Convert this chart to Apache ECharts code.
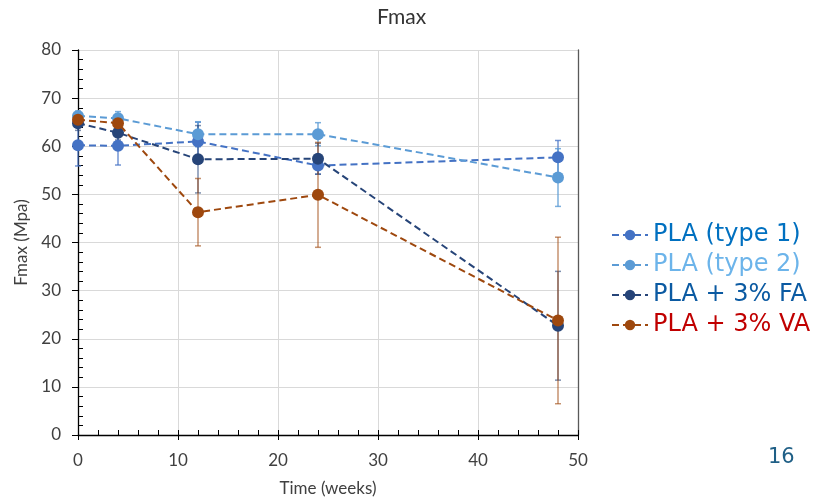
<!DOCTYPE html>
<html><head><meta charset="utf-8">
<script src="https://cdn.jsdelivr.net/npm/echarts@6/dist/echarts.min.js"></script>
<style>html,body{margin:0;padding:0;background:#fff}#c{width:821px;height:497px}</style>
</head><body><div id="c"></div>
<script>
const weeks = [0, 4, 12, 24, 48];
const seriesNames = ['PLA (type 1)', 'PLA (type 2)', 'PLA + 3% FA', 'PLA + 3% VA'];
const type1 = [60.2, 60.1, 61.0, 56.0, 57.7];
const type1Err = [4.3, 4.0, 4.0, 1.8, 3.5];
const type2 = [66.3, 65.8, 62.5, 62.5, 53.5];
const type2Err = [1.0, 1.4, 2.6, 2.4, 6.0];
const fa = [64.8, 62.8, 57.3, 57.4, 22.7];
const faErr = [1.5, 1.5, 7.0, 3.2, 11.3];
const va = [65.5, 64.8, 46.3, 49.9, 23.8];
const vaErr = [1.0, 1.0, 7.0, 10.9, 17.3];
const xTicks = [0, 10, 20, 30, 40, 50];
const yTicks = [0, 10, 20, 30, 40, 50, 60, 70, 80];

const lineColors = ['#4472C4', '#5B9BD5', '#264478', '#9E480E'];
const errColors = ['rgba(68,114,196,0.75)', 'rgba(91,155,213,0.8)', 'rgba(38,68,120,0.6)', 'rgba(158,72,14,0.6)'];
const legendColors = ['#0070C0', '#6CB4EA', '#0B5AA2', '#C00000'];
const values = [type1, type2, fa, va];
const errs = [type1Err, type2Err, faErr, vaErr];

const chart = echarts.init(document.getElementById('c'), null, {renderer: 'canvas'});
const font = 'Lato, "Open Sans", sans-serif';

function errSeries(i) {
  return {
    type: 'custom', name: 'err' + i, xAxisIndex: 0, yAxisIndex: 0, z: 1, silent: true,
    data: weeks.map((w, k) => [w, values[i][k] - errs[i][k], values[i][k] + errs[i][k]]),
    renderItem: function (params, api) {
      const x = api.value(0), lo = api.value(1), hi = api.value(2);
      const p1 = api.coord([x, hi]), p2 = api.coord([x, lo]);
      const w = 3;
      const style = {stroke: errColors[i], lineWidth: 1.5};
      return {type: 'group', children: [
        {type: 'line', shape: {x1: p1[0], y1: p1[1], x2: p2[0], y2: p2[1]}, style: style},
        {type: 'line', shape: {x1: p1[0] - w, y1: p1[1], x2: p1[0] + w, y2: p1[1]}, style: style},
        {type: 'line', shape: {x1: p2[0] - w, y1: p2[1], x2: p2[0] + w, y2: p2[1]}, style: style}
      ]};
    }
  };
}
function lineSeries(i) {
  return {
    type: 'line', name: seriesNames[i], xAxisIndex: 0, yAxisIndex: 0, z: 2 + i,
    data: weeks.map((w, k) => [w, values[i][k]]),
    symbol: 'circle', symbolSize: 12,
    itemStyle: {color: lineColors[i]},
    lineStyle: {color: lineColors[i], width: 2, type: [7, 4]}
  };
}

const option = {
  animation: false,
  backgroundColor: '#fff',
  title: {text: 'Fmax', left: 372, top: 2, textStyle: {fontFamily: font, fontSize: 21, fontWeight: 'normal', color: '#333'}},
  grid: {left: 78, right: 243, top: 50, bottom: 62, outerBoundsMode: 'none', containLabel: false},
  legend: {
    orient: 'vertical', left: 606, top: 218, itemWidth: 36, itemHeight: 13, itemGap: 6,
    data: seriesNames.map((n, i) => ({name: n, textStyle: {color: legendColors[i]}})),
    textStyle: {fontFamily: '"DejaVu Sans", Verdana, sans-serif', fontSize: 24, lineHeight: 23}
  },
  xAxis: [
    {type: 'value', min: 0, max: 50, interval: 10, position: 'bottom',
     name: 'Time (weeks)', nameLocation: 'middle', nameGap: 45,
     nameTextStyle: {fontFamily: font, fontSize: 17, color: '#404040'},
     axisLine: {show: true, lineStyle: {color: '#000', width: 1.3}},
     axisTick: {show: true, inside: false, length: 5, lineStyle: {color: '#000'}},
     axisLabel: {margin: 17, fontFamily: font, fontSize: 17, color: '#404040',
                 formatter: v => xTicks.includes(v) ? String(v) : ''},
     splitLine: {show: true, lineStyle: {color: '#d9d9d9', width: 1}}},
    {type: 'value', min: 0, max: 50, interval: 10, position: 'bottom',
     axisLine: {show: false}, axisLabel: {show: false}, splitLine: {show: false},
     axisTick: {show: true, inside: true, length: 5, lineStyle: {color: '#000'}},
     minorTick: {show: true, splitNumber: 5, length: 5, lineStyle: {color: '#000', width: 1}}}
  ],
  yAxis: [
    {type: 'value', min: 0, max: 80, interval: 10, position: 'left',
     name: 'Fmax (Mpa)', nameLocation: 'middle', nameGap: 40, nameRotate: 90,
     nameTextStyle: {fontFamily: font, fontSize: 17, color: '#404040'},
     axisLine: {show: true, lineStyle: {color: '#000', width: 1.3}},
     axisTick: {show: true, inside: false, length: 6, lineStyle: {color: '#000'}},
     axisLabel: {margin: 17, fontFamily: font, fontSize: 17, color: '#404040',
                 formatter: v => yTicks.includes(v) ? String(v) : ''},
     splitLine: {show: true, lineStyle: {color: '#d9d9d9', width: 1}}},
    {type: 'value', min: 0, max: 80, interval: 10, position: 'left',
     axisLine: {show: false}, axisLabel: {show: false}, splitLine: {show: false},
     axisTick: {show: true, inside: true, length: 0},
     minorTick: {show: true, splitNumber: 5, length: 5, lineStyle: {color: '#000', width: 1}}},
    {type: 'value', min: 0, max: 80, interval: 10, position: 'right',
     axisLine: {show: true, lineStyle: {color: '#595959', width: 1.3}},
     axisTick: {show: false}, axisLabel: {show: false}, splitLine: {show: false}}
  ],
  graphic: [
    {type: 'text', left: 768, top: 447, style: {text: '16', font: '21px "DejaVu Sans", Verdana, sans-serif', fill: '#1F5F86'}}
  ],
  series: [0, 1, 2, 3].map(errSeries).concat([0, 1, 2, 3].map(lineSeries))
};
chart.setOption(option);
</script>
</body></html>
